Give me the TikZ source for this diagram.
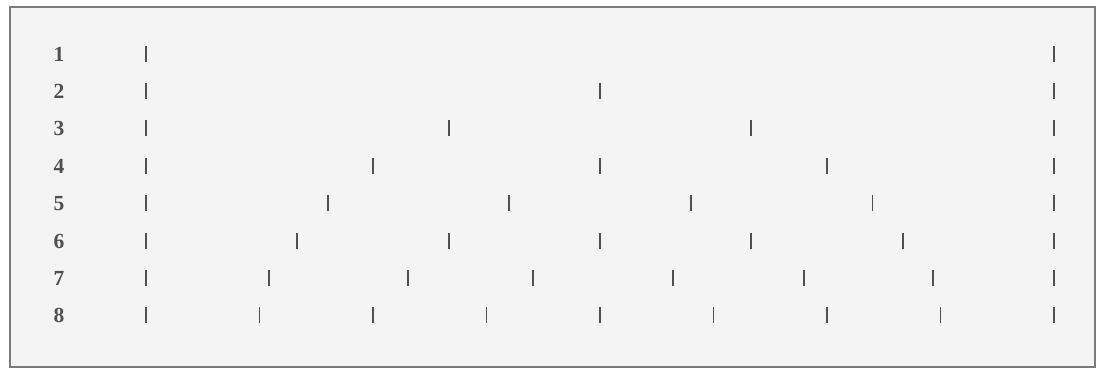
\documentclass[tikz,border=0pt]{standalone}
\usepackage{fontspec}
\setmainfont{Liberation Serif}
\definecolor{frame}{HTML}{7A7A7A}
\definecolor{paper}{HTML}{F4F4F4}
\definecolor{ink}{HTML}{505050}
\tikzset{
  rowlabel/.style={font=\bfseries\fontsize{21.5}{22}\selectfont, text=ink, inner sep=0pt, anchor=center},
  tickmark/.style={draw=ink, line width=1.8pt}
}
\begin{document}
\begin{tikzpicture}[x=1pt,y=-1pt]
\useasboundingbox (0,0) rectangle (1102,371);
\fill[white] (0,0) rectangle (1102,371);
\draw[frame, fill=paper, line width=1.2pt] (10,7) rectangle (1095,367);
% rows with evenly spaced ticks
\foreach \n/\yy in {1/54, 2/91, 3/128.5, 4/166, 5/203.5, 6/241, 8/315}{
  \node[rowlabel] (L\n) at (59,\yy) {\n};
  \foreach \k in {0,...,\n}{
    \pgfmathsetmacro{\xx}{146+908*\k/\n}
    \draw[tickmark] (\xx,\yy-8) -- (\xx,\yy+8);
  }
}
% row 7 (ticks as printed)
\node[rowlabel] (L7) at (59,278) {7};
\foreach \xx in {146,269,408,533,673,804,933,1054}{
  \draw[tickmark] (\xx,270) -- (\xx,286);
}
\end{tikzpicture}
\end{document}
